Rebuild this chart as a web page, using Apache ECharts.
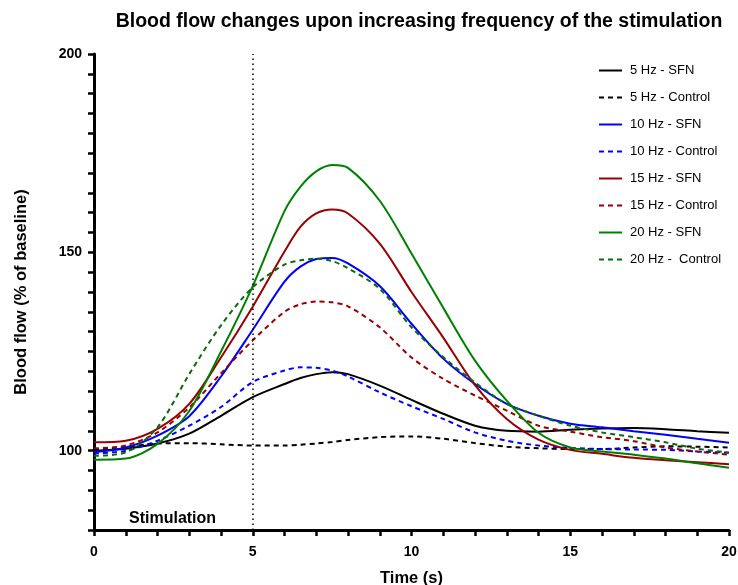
<!DOCTYPE html>
<html>
<head>
<meta charset="utf-8">
<script src="https://cdn.jsdelivr.net/npm/echarts@6/dist/echarts.min.js"></script>
<style>html,body{margin:0;padding:0;background:#fff}#c{width:738px;height:585px}</style>
</head>
<body>
<div id="c"></div>
<script>
const times = [0,1,2,3,4,5,6,6.5,7,7.5,8,9,10,11,12,13,14,15,16,17,18,19,20];
const seriesNames = ['5 Hz - SFN','5 Hz - Control','10 Hz - SFN','10 Hz - Control','15 Hz - SFN','15 Hz - Control','20 Hz - SFN','20 Hz -  Control'];
const hz5SFN      = [100,100.5,101.8,104.3,108.8,113.5,116.8,118.3,119.3,119.8,119.3,116.4,112.8,109.3,106.3,105.0,104.8,105.3,105.6,105.7,105.4,104.9,104.5];
const hz5Control  = [100.3,101.0,101.8,101.9,101.6,101.3,101.3,101.5,101.8,102.2,102.7,103.4,103.6,103.0,101.9,101.0,100.6,100.4,100.4,100.8,101.1,101.0,100.8];
const hz10SFN     = [99.6,100.8,103.8,108.7,118.7,130.5,142.6,146.4,148.3,148.6,147.2,141.5,132.0,123.2,116.8,111.8,108.8,106.8,105.9,104.9,104.0,103.0,102.0];
const hz10Control = [99.3,100.0,102.5,106.3,111.0,117.3,120.2,121.0,120.9,120.2,118.7,114.7,111.2,108.0,104.6,102.5,101.3,100.7,100.4,100.3,100.2,99.8,99.5];
const hz15SFN     = [102.1,102.5,105.5,111.8,123.5,136.3,150.2,156.4,159.8,160.8,159.8,152.2,140.0,128.5,116.5,108.0,102.8,100.2,99.2,98.2,97.6,97.1,96.6];
const hz15Control = [100.6,101.3,104.6,110.9,119.5,127.8,135.0,136.9,137.6,137.4,136.4,131.1,123.5,118.1,113.9,110.1,106.3,104.8,103.4,102.4,100.8,99.8,99.0];
const hz20SFN     = [97.7,98.0,101.7,110.0,125.0,141.5,160.4,166.5,170.4,172.0,171.3,163.0,149.7,136.0,122.7,112.6,104.5,100.8,99.8,99.0,98.0,96.8,95.7];
const hz20Control = [98.7,99.6,105.9,119.3,131.6,141.2,146.9,148.0,148.4,147.8,146.0,140.8,131.1,123.6,117.2,111.8,108.8,106.3,104.6,103.4,102.1,100.5,99.5];
const stimulationEnd = 5;
const yTickLabels = [100,150,200];

const allValues = [hz5SFN,hz5Control,hz10SFN,hz10Control,hz15SFN,hz15Control,hz20SFN,hz20Control];
const colors = ['#000000','#000000','#0000ff','#0000ff','#990000','#990000','#008000','#0a6b0a'];
const dashed = [false,true,false,true,false,true,false,true];

const chart = echarts.init(document.getElementById('c'), null, {renderer:'canvas'});
const FONT = '"Liberation Sans", Arial, sans-serif';

const series = allValues.map((vals, i) => ({
  name: seriesNames[i],
  type: 'line',
  smooth: 0.3,
  symbol: 'none',
  data: times.map((t, k) => [t, vals[k]]),
  lineStyle: {color: colors[i], width: 2, type: dashed[i] ? [5,4] : 'solid'},
  itemStyle: {color: colors[i]},
  z: 3,
  markLine: i === 0 ? {
    silent: true, symbol: 'none', animation: false,
    label: {show: false},
    lineStyle: {color: '#000', type: [1.5,3.5], width: 1.5},
    data: [{xAxis: stimulationEnd}]
  } : undefined
}));

chart.setOption({
  animation: false,
  backgroundColor: '#fff',
  title: {
    text: 'Blood flow changes upon increasing frequency of the stimulation',
    left: 414, top: 7, textAlign: 'center',
    textStyle: {fontFamily: FONT, fontSize: 19.5, fontWeight: 'bold', color: '#000'}
  },
  legend: {
    orient: 'vertical', left: 593, top: 59,
    itemWidth: 23, itemHeight: 14, itemGap: 14,
    itemStyle: {opacity: 0},
    textStyle: {fontFamily: FONT, fontSize: 13, color: '#000', padding: [0,0,0,3]},
    data: seriesNames
  },
  grid: {left: 94, right: 9, top: 54, bottom: 55, containLabel: false, outerBoundsMode: 'none'},
  xAxis: {
    type: 'value', min: 0, max: 20, interval: 5,
    name: 'Time (s)', nameLocation: 'middle', nameGap: 40,
    nameTextStyle: {fontFamily: FONT, fontSize: 16.5, fontWeight: 'bold', color: '#000'},
    axisLine: {onZero: false, lineStyle: {color: '#000', width: 3}},
    axisTick: {show: true, length: 6, lineStyle: {color: '#000', width: 2.5}},
    minorTick: {show: true, splitNumber: 5, length: 6, lineStyle: {color: '#000', width: 2.5}},
    axisLabel: {fontFamily: FONT, fontSize: 14, fontWeight: 'bold', color: '#000', margin: 15},
    splitLine: {show: false}
  },
  yAxis: {
    type: 'value', min: 80, max: 200, interval: 10,
    name: 'Blood flow (% of baseline)', nameLocation: 'middle', nameGap: 64,
    nameTextStyle: {fontFamily: FONT, fontSize: 16.5, fontWeight: 'bold', color: '#000'},
    axisLine: {onZero: false, lineStyle: {color: '#000', width: 3}},
    axisTick: {show: true, length: 6, lineStyle: {color: '#000', width: 2.5}},
    minorTick: {show: true, splitNumber: 2, length: 6, lineStyle: {color: '#000', width: 2.5}},
    axisLabel: {fontFamily: FONT, fontSize: 14, fontWeight: 'bold', color: '#000', margin: 12,
      formatter: v => yTickLabels.indexOf(v) >= 0 ? String(v) : ''},
    splitLine: {show: false}
  },
  graphic: [{
    type: 'text', left: 129, top: 511, silent: true,
    style: {text: 'Stimulation', font: 'bold 16px ' + FONT, fill: '#000'}
  }],
  series: series
});
</script>
</body>
</html>
